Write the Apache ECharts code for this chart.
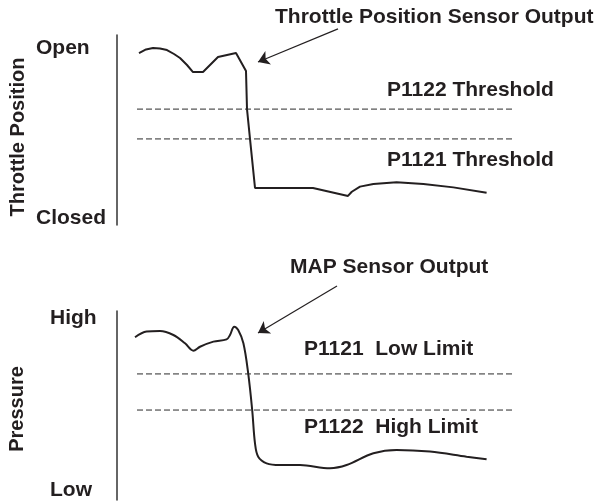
<!DOCTYPE html>
<html>
<head>
<meta charset="utf-8">
<script src="https://cdn.jsdelivr.net/npm/echarts@6/dist/echarts.min.js"></script>
<style>
  html, body { margin: 0; background: #fff; }
  #root { width: 599px; height: 502px; }
</style>
</head>
<body>
<div id="root"></div>
<script>
// x: time (0-100), y: relative level (0 = Closed/Low, 100 = Open/High)
const tpsOutput = [
  [5.5, 90.5], [7.25, 92.4], [9, 93.2], [10.75, 92.9], [12.5, 92.1], [14.25, 90],
  [15.75, 87.9], [17.5, 84.2], [19, 80.5], [21.5, 80.5], [25.25, 88.4], [29.75, 90.5],
  [32.25, 81], [32.5, 61], [33.25, 45.3], [34.5, 19.5], [49, 19.5], [57.75, 15.3],
  [58.7, 17.5], [60.75, 20.2], [64.1, 21.6], [69.9, 22.5], [76.6, 21.6], [84.1, 19.8],
  [92.4, 17]
];
const mapOutput = [
  [4.5, 86.1], [7.4, 89.1], [10.75, 89.4], [14.1, 87.3], [17, 82.9], [19.1, 79],
  [20.75, 81.1], [24.1, 83.8], [27.4, 85], [28.25, 87.3], [29.3, 91.7], [30.3, 89.9],
  [31.6, 82.9], [32.8, 67], [33.8, 47.6], [34.5, 30], [35.3, 22.9], [37.4, 19.4],
  [40.75, 18.5], [45.75, 18.5], [53.25, 16.8], [57.4, 18.5], [64.1, 24.7], [69.9, 26.5],
  [78.25, 25.6], [87.4, 22.9], [92.4, 21.5]
];
const tpsThresholds = [61, 45.3];   // P1122, P1121
const mapLimits = [66.7, 47.6];     // P1121 low limit, P1122 high limit
const thresholdSpan = [5, 99.5];
const tpsArrow = [[55.25, 103.2], [35.25, 85.8]];
const mapArrow = [[55, 113.2], [35.25, 88.4]];

const ink = '#231f20';
const font = 'bold 21px "Liberation Sans", Arial, sans-serif';
const fontSide = 'bold 20px "Liberation Sans", Arial, sans-serif';

const chart = echarts.init(document.getElementById('root'));

function dashed(values, idx) {
  return values.map(v => ({
    type: 'line', xAxisIndex: idx, yAxisIndex: idx, symbol: 'none',
    data: thresholdSpan.map(x => [x, v]),
    lineStyle: { color: '#2a2a2a', width: 1, type: [6, 3] }
  }));
}

function curve(data, idx, smooth) {
  return {
    type: 'line', xAxisIndex: idx, yAxisIndex: idx, symbol: 'none', smooth: smooth,
    clip: false, data: data,
    lineStyle: { color: ink, width: 2 }
  };
}

function arrow(coords, idx) {
  return {
    type: 'lines', coordinateSystem: 'cartesian2d', xAxisIndex: idx, yAxisIndex: idx,
    clip: false, silent: true,
    symbol: ['none', 'arrow'], symbolSize: 11,
    lineStyle: { color: ink, width: 1.2, opacity: 1 },
    data: [{ coords: coords }]
  };
}

function txt(text, x, y) {
  return {
    type: 'text', x: x, y: y,
    style: { text: text, font: font, fill: ink, textAlign: 'left', textVerticalAlign: 'middle' }
  };
}

function rotTxt(text, x, y) {
  return {
    type: 'text', x: x, y: y, rotation: Math.PI / 2,
    style: { text: text, font: fontSide, fill: ink, textAlign: 'center', textVerticalAlign: 'middle' }
  };
}

const yAxisBase = {
  type: 'value', min: 0, max: 100,
  axisLine: { show: true, lineStyle: { color: '#333', width: 1.5 } },
  axisTick: { show: false }, axisLabel: { show: false }, splitLine: { show: false }
};
const xAxisBase = { type: 'value', min: 0, max: 100, show: false };

chart.setOption({
  animation: false,
  grid: [
    { left: 117, top: 35, width: 400, height: 190 },
    { left: 117, top: 311, width: 400, height: 189 }
  ],
  xAxis: [Object.assign({ gridIndex: 0 }, xAxisBase), Object.assign({ gridIndex: 1 }, xAxisBase)],
  yAxis: [Object.assign({ gridIndex: 0 }, yAxisBase), Object.assign({ gridIndex: 1 }, yAxisBase)],
  series: [
    curve(tpsOutput, 0, false),
    curve(mapOutput, 1, 0.35),
    arrow(tpsArrow, 0),
    arrow(mapArrow, 1)
  ].concat(dashed(tpsThresholds, 0), dashed(mapLimits, 1)),
  graphic: [
    txt('Throttle Position Sensor Output', 275, 17),
    txt('Open', 36, 48),
    txt('Closed', 36, 218),
    rotTxt('Throttle Position', 18, 137),
    txt('P1122 Threshold', 387, 90),
    txt('P1121 Threshold', 387, 160),
    txt('MAP Sensor Output', 290, 267),
    txt('High', 50, 318),
    txt('Low', 50, 490),
    rotTxt('Pressure', 17, 409),
    txt('P1121  Low Limit', 304, 349),
    txt('P1122  High Limit', 304, 427)
  ]
});
</script>
</body>
</html>
